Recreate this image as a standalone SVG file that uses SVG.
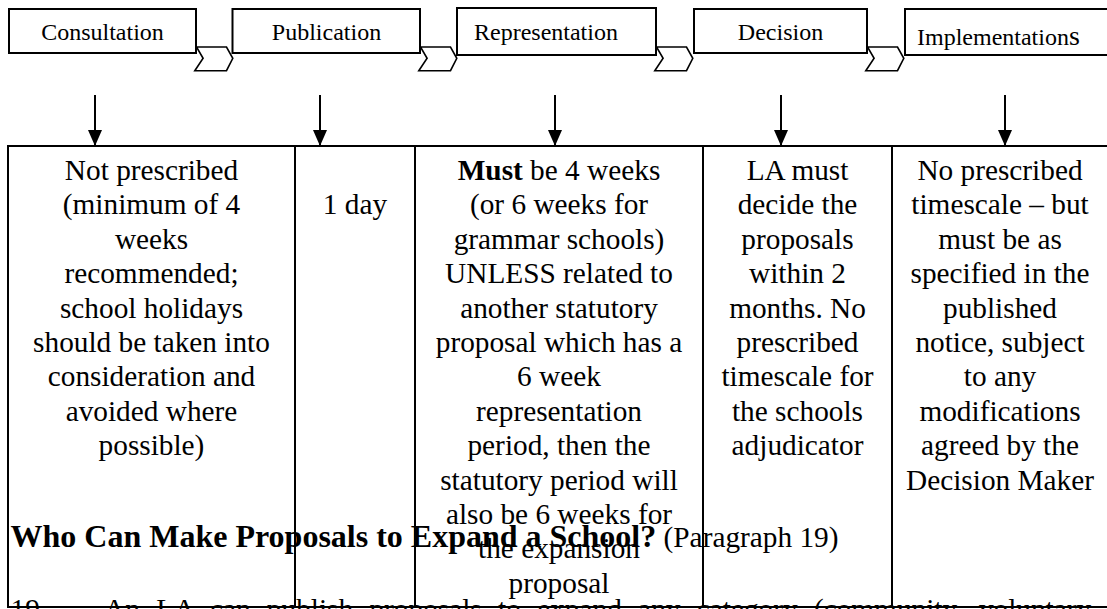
<svg xmlns="http://www.w3.org/2000/svg" width="1107" height="609" viewBox="0 0 1107 609" font-family="'Liberation Serif','Times New Roman',serif">
<style>
text{font-family:"Liberation Serif","Times New Roman",serif;fill:#000}
.box{fill:#fff;stroke:#000;stroke-width:2}
.step{font-size:24px}
.cell{font-size:29.3px;text-anchor:middle}
.grid{stroke:#000;stroke-width:2;fill:none}
.chev{fill:#fff;stroke:#000;stroke-width:1.6;stroke-linejoin:miter}
.arr{stroke:#000;stroke-width:2;fill:none}
.b{font-weight:bold}
</style>
<defs>
<path id="chevron" d="M0,47 L30,47 L36.3,58.3 L30,70.7 L-1.7,70.7 L6.6,58.3 Z"/>
<marker id="ah" markerUnits="userSpaceOnUse" markerWidth="16" markerHeight="14" refX="16" refY="7" orient="auto" viewBox="0 0 16 14">
<path d="M0,0 L16,7 L0,14 Z" fill="#000"/>
</marker>
</defs>
<g id="steps">
<g id="step-consultation"><rect class="box" x="9" y="9" width="187" height="44"/><text class="step" x="102.5" y="40" text-anchor="middle">Consultation</text></g>
<g id="step-publication"><rect class="box" x="232.5" y="9" width="187.5" height="44"/><text class="step" x="326.5" y="40" text-anchor="middle">Publication</text></g>
<g id="step-representation"><rect class="box" x="457" y="8" width="199" height="47"/><text class="step" x="474" y="40">Representation</text></g>
<g id="step-decision"><rect class="box" x="694" y="9" width="173" height="44"/><text class="step" x="780.5" y="40" text-anchor="middle">Decision</text></g>
<g id="step-implementations"><rect class="box" x="905" y="9" width="215" height="46"/><text class="step" x="917" y="45">Implementation<tspan font-size="28">s</tspan></text></g>
</g>
<g id="table">
<rect class="grid" x="8" y="146" width="1112" height="461"/>
<line class="grid" x1="295" y1="146" x2="295" y2="607"/>
<line class="grid" x1="415" y1="146" x2="415" y2="607"/>
<line class="grid" x1="703" y1="146" x2="703" y2="607"/>
<line class="grid" x1="892" y1="146" x2="892" y2="607"/>
</g>
<g id="cell-consultation">
<text class="cell" x="151.5" y="180">Not prescribed</text>
<text class="cell" x="151.5" y="214.4">(minimum of 4</text>
<text class="cell" x="151.5" y="248.8">weeks</text>
<text class="cell" x="151.5" y="283.2">recommended;</text>
<text class="cell" x="151.5" y="317.6">school holidays</text>
<text class="cell" x="151.5" y="352">should be taken into</text>
<text class="cell" x="151.5" y="386.4">consideration and</text>
<text class="cell" x="151.5" y="420.8">avoided where</text>
<text class="cell" x="151.5" y="455.2">possible)</text>
</g>
<g id="cell-publication">
<text class="cell" x="355" y="214.4">1 day</text>
</g>
<g id="cell-representation">
<text class="cell" x="559" y="180"><tspan class="b">Must</tspan> be 4 weeks</text>
<text class="cell" x="559" y="214.4">(or 6 weeks for</text>
<text class="cell" x="559" y="248.8">grammar schools)</text>
<text class="cell" x="559" y="283.2">UNLESS related to</text>
<text class="cell" x="559" y="317.6">another statutory</text>
<text class="cell" x="559" y="352">proposal which has a</text>
<text class="cell" x="559" y="386.4">6 week</text>
<text class="cell" x="559" y="420.8">representation</text>
<text class="cell" x="559" y="455.2">period, then the</text>
<text class="cell" x="559" y="489.6">statutory period will</text>
<text class="cell" x="559" y="524">also be 6 weeks for</text>
<text class="cell" x="559" y="558.4">the expansion</text>
<text class="cell" x="559" y="592.8">proposal</text>
</g>
<g id="cell-decision">
<text class="cell" x="797.5" y="180">LA must</text>
<text class="cell" x="797.5" y="214.4">decide the</text>
<text class="cell" x="797.5" y="248.8">proposals</text>
<text class="cell" x="797.5" y="283.2">within 2</text>
<text class="cell" x="797.5" y="317.6">months. No</text>
<text class="cell" x="797.5" y="352">prescribed</text>
<text class="cell" x="797.5" y="386.4">timescale for</text>
<text class="cell" x="797.5" y="420.8">the schools</text>
<text class="cell" x="797.5" y="455.2">adjudicator</text>
</g>
<g id="cell-implementations">
<text class="cell" x="1000" y="180">No prescribed</text>
<text class="cell" x="1000" y="214.4">timescale – but</text>
<text class="cell" x="1000" y="248.8">must be as</text>
<text class="cell" x="1000" y="283.2">specified in the</text>
<text class="cell" x="1000" y="317.6">published</text>
<text class="cell" x="1000" y="352">notice, subject</text>
<text class="cell" x="1000" y="386.4">to any</text>
<text class="cell" x="1000" y="420.8">modifications</text>
<text class="cell" x="1000" y="455.2">agreed by the</text>
<text class="cell" x="1000" y="489.6">Decision Maker</text>
</g>
<g id="connectors">
<use href="#chevron" class="chev" x="196.5"/>
<use href="#chevron" class="chev" x="420.5"/>
<use href="#chevron" class="chev" x="656.5"/>
<use href="#chevron" class="chev" x="867.5"/>
<line class="arr" x1="95" y1="95" x2="95" y2="146" marker-end="url(#ah)"/>
<line class="arr" x1="320" y1="95" x2="320" y2="146" marker-end="url(#ah)"/>
<line class="arr" x1="555" y1="95" x2="555" y2="146" marker-end="url(#ah)"/>
<line class="arr" x1="781" y1="95" x2="781" y2="146" marker-end="url(#ah)"/>
<line class="arr" x1="1005" y1="95" x2="1005" y2="146" marker-end="url(#ah)"/>
</g>
<g id="body-text">
<text x="10.5" y="547" font-size="32"><tspan class="b">Who Can Make Proposals to Expand a School?</tspan><tspan font-size="29.3"> (Paragraph 19)</tspan></text>
<text x="10.5" y="619" font-size="29.3">19</text>
<text x="104" y="619" font-size="29.3" word-spacing="9">An LA can publish proposals to expand any category (community, voluntary</text>
</g>
</svg>
